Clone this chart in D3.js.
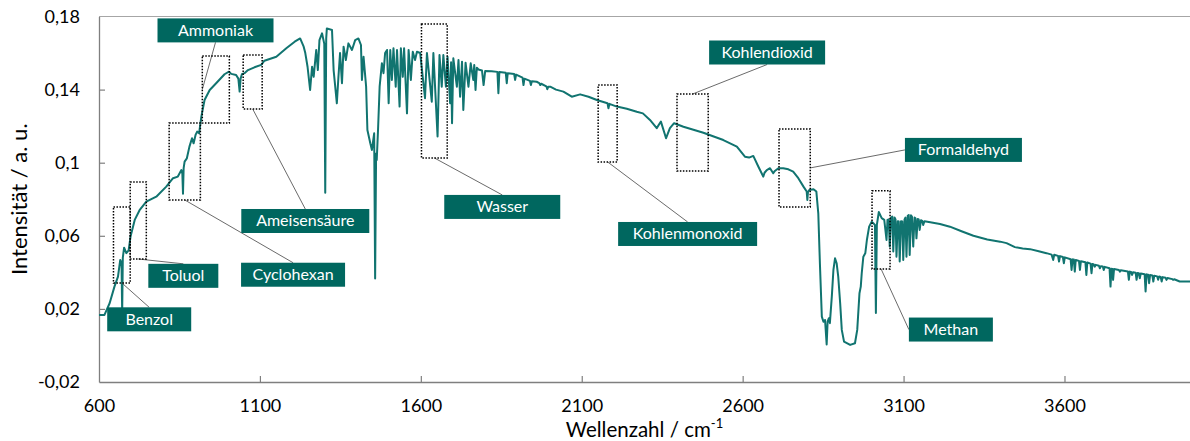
<!DOCTYPE html>
<html>
<head>
<meta charset="utf-8">
<script src="https://cdn.jsdelivr.net/npm/d3@7"></script>
<style>
  body { margin: 0; background: #fff; }
  svg text { font-family: Lato, "Open Sans", sans-serif; fill: #000; }
</style>
</head>
<body>
<div id="chart"></div>
<script>
// spectrum: [wavenumber cm-1, intensity a.u.]
var spectrum = [
  [600,0.0167],[617,0.0167],[633,0.0231],[648,0.0322],[659,0.0377],[666,0.0468],[670,0.045],[672,0.018],[674,0.048],
  [678,0.0535],[685,0.0505],[692,0.052],[698,0.0596],[711,0.0687],[726,0.074],[747,0.0787],[778,0.0814],[809,0.0869],
  [830,0.0915],[845,0.0924],[856,0.096],[859,0.094],[861,0.083],[863,0.097],[866,0.1006],[873,0.1024],[881,0.1088],
  [889,0.1134],[894,0.1106],[900,0.1152],[905,0.117],[911,0.1161],[918,0.1252],[928,0.1343],[944,0.1398],[964,0.1435],
  [990,0.1484],[1004,0.1498],[1011,0.1486],[1026,0.148],[1033,0.146],[1037,0.1389],[1040,0.146],[1044,0.1484],
  [1052,0.149],[1063,0.1507],[1083,0.1522],[1104,0.1535],[1114,0.1558],[1151,0.158],[1182,0.1626],[1208,0.1662],
  [1225,0.168],[1236,0.1635],[1241,0.16],[1248,0.1525],[1256,0.1398],[1262,0.1525],[1267,0.147],[1275,0.1617],
  [1280,0.1507],[1285,0.1671],[1293,0.1708],[1300,0.165],[1303,0.0836],[1306,0.168],[1308,0.1735],[1324,0.1726],
  [1329,0.1507],[1334,0.1416],[1339,0.1325],[1344,0.147],[1349,0.16],[1355,0.1435],[1360,0.1635],[1367,0.1562],
  [1375,0.1653],[1386,0.1617],[1396,0.1671],[1406,0.168],[1414,0.1644],[1417,0.1453],[1422,0.158],[1430,0.1416],
  [1434,0.1179],[1443,0.1106],[1448,0.107],[1455,0.1161],[1458,0.0366],[1461,0.105],[1463,0.1015],[1467,0.1179],
  [1472,0.1416],[1479,0.1544],[1484,0.149],[1489,0.16],[1495,0.1617],[1500,0.1325],[1505,0.1617],[1510,0.1453],
  [1515,0.1626],[1522,0.1416],[1526,0.1617],[1534,0.1307],[1538,0.1626],[1544,0.147],[1548,0.1626],[1557,0.127],
  [1562,0.1617],[1569,0.1453],[1575,0.1607],[1582,0.1562],[1588,0.1607],[1598,0.16],[1613,0.1353],[1619,0.16],
  [1634,0.1334],[1639,0.16],[1652,0.1143],[1658,0.1589],[1665,0.1416],[1670,0.1589],[1678,0.1416],[1683,0.158],
  [1691,0.1325],[1694,0.155],[1697,0.1216],[1701,0.1571],[1712,0.1416],[1717,0.1562],[1722,0.1361],[1728,0.1553],
  [1732,0.1289],[1739,0.1547],[1748,0.1416],[1755,0.1544],[1763,0.1453],[1766,0.1535],[1770,0.1398],[1774,0.152],
  [1779,0.151],[1790,0.1505],[1795,0.1425],[1800,0.1502],[1820,0.15],[1838,0.1497],[1841,0.138],[1844,0.1496],
  [1864,0.1492],[1867,0.1435],[1870,0.149],[1890,0.1485],[1893,0.1453],[1896,0.1482],[1916,0.1465],[1919,0.1425],
  [1922,0.146],[1939,0.1448],[1942,0.1425],[1945,0.1446],[1960,0.1443],[1968,0.1436],[1971,0.1425],[1974,0.1432],
  [1990,0.1418],[1993,0.1402],[1996,0.1415],[2002,0.1416],[2020,0.14],[2043,0.1389],[2069,0.1361],[2095,0.1374],
  [2121,0.1361],[2147,0.1343],[2180,0.1325],[2183,0.1298],[2186,0.1322],[2209,0.1307],[2240,0.1295],[2271,0.1279],
  [2290,0.127],[2312,0.1234],[2333,0.1189],[2346,0.1225],[2362,0.1134],[2374,0.1189],[2387,0.1216],[2416,0.1197],
  [2478,0.1164],[2540,0.1124],[2582,0.1088],[2607,0.1033],[2620,0.1028],[2633,0.1037],[2649,0.0978],[2664,0.0924],
  [2668,0.0945],[2675,0.096],[2685,0.097],[2695,0.0942],[2700,0.0955],[2711,0.097],[2726,0.097],[2742,0.0964],
  [2757,0.0951],[2773,0.0915],[2789,0.0869],[2799,0.0842],[2801,0.0796],[2803,0.084],[2807,0.0851],[2820,0.0855],
  [2829,0.0842],[2835,0.0723],[2840,0.045],[2846,0.0158],[2851,0.013],[2856,0.0139],[2861,0.0005],[2864,0.013],
  [2868,0.0149],[2871,0.0122],[2877,0.0267],[2882,0.0413],[2887,0.0477],[2892,0.045],[2897,0.0376],[2903,0.0231],
  [2908,0.0085],[2915,0.0021],[2934,0.0003],[2949,0.0012],[2956,0.0085],[2963,0.0286],[2967,0.0322],[2970,0.0395],
  [2975,0.0486],[2981,0.0504],[2986,0.0577],[2993,0.065],[3001,0.0677],[3006,0.0669],[3011,0.066],[3014,0.0178],
  [3017,0.066],[3023,0.073],[3032,0.0697],[3040,0.0687],[3047,0.0577],[3050,0.0687],[3054,0.069],[3057,0.0541],
  [3061,0.07],[3065,0.0705],[3068,0.0514],[3072,0.07],[3075,0.069],[3078,0.0486],[3082,0.068],[3085,0.0678],
  [3088,0.0459],[3092,0.068],[3096,0.0678],[3099,0.0468],[3103,0.069],[3106,0.07],[3109,0.0486],[3113,0.071],
  [3116,0.0714],[3119,0.0495],[3123,0.0712],[3126,0.0705],[3130,0.0541],[3134,0.07],[3137,0.0696],[3140,0.0586],
  [3144,0.0692],[3147,0.069],[3150,0.0632],[3154,0.0685],[3158,0.0682],[3161,0.0659],[3165,0.068],[3183,0.0674],
  [3213,0.0665],[3244,0.065],[3280,0.0625],[3317,0.06],[3360,0.058],[3400,0.0568],[3420,0.056],[3446,0.0538],
  [3470,0.053],[3493,0.0527],[3520,0.0515],[3544,0.0505],[3560,0.0497],[3565,0.0468],[3568,0.0496],[3580,0.049],
  [3583,0.0459],[3586,0.0489],[3595,0.0484],[3598,0.045],[3601,0.0482],[3619,0.0472],[3622,0.0413],[3625,0.0471],
  [3629,0.047],[3632,0.0404],[3635,0.0468],[3645,0.0463],[3648,0.0413],[3651,0.0461],[3665,0.0455],[3668,0.0386],
  [3671,0.0454],[3681,0.0448],[3684,0.0395],[3687,0.0446],[3691,0.0443],[3694,0.0431],[3697,0.0441],[3707,0.0436],
  [3710,0.0422],[3713,0.0434],[3719,0.0432],[3722,0.0413],[3725,0.043],[3740,0.0422],[3743,0.0322],[3746,0.042],
  [3749,0.0419],[3751,0.0359],[3754,0.0418],[3769,0.0413],[3772,0.0404],[3775,0.0412],[3797,0.0405],[3800,0.0359],
  [3803,0.0404],[3807,0.0402],[3810,0.0386],[3813,0.0401],[3821,0.0398],[3824,0.0359],[3827,0.0397],[3831,0.0395],
  [3834,0.0368],[3837,0.0394],[3849,0.039],[3852,0.0295],[3855,0.0389],[3860,0.0387],[3863,0.0341],[3866,0.0386],
  [3873,0.0383],[3876,0.035],[3879,0.0382],[3888,0.0378],[3891,0.0359],[3894,0.0377],[3899,0.0375],[3902,0.035],
  [3905,0.0374],[3914,0.037],[3917,0.0359],[3920,0.0369],[3935,0.0363],[3938,0.0359],[3941,0.0362],[3958,0.035],
  [3990,0.035]
];

var xTicks = [600, 1100, 1600, 2100, 2600, 3100, 3600];
var yTicks = [-0.02, 0.02, 0.06, 0.1, 0.14, 0.18];
var yTickLabels = ["-0,02", "0,02", "0,06", "0,1", "0,14", "0,18"];

// marked regions [wn from, wn to, intensity low, intensity high] and label anchor [wn, intensity]
var annotations = [
  { name: "Benzol",        region: [645, 697, 0.0342, 0.0758],   label: [756, 0.0143],  w: 84,  from: "bottom", to: "top" },
  { name: "Toluol",        region: [697, 747, 0.0473, 0.0895],   label: [862, 0.0381],  w: 70,  from: "bottom", to: "top" },
  { name: "Cyclohexan",    region: [818, 915, 0.0796, 0.1217],   label: [1203, 0.0387], w: 104, from: "bottom", to: "top" },
  { name: "Ammoniak",      region: [921, 1005, 0.1217, 0.1584],  label: [962, 0.1724],  w: 116, from: "left",   to: "bottom" },
  { name: "Ameisensäure",  region: [1048, 1107, 0.1294, 0.159],  label: [1241, 0.0681], w: 128, from: "bottom", to: "top" },
  { name: "Wasser",        region: [1602, 1682, 0.1026, 0.1759], label: [1853, 0.0758], w: 116, from: "bottom", to: "top" },
  { name: "Kohlenmonoxid", region: [2151, 2210, 0.1004, 0.1425], label: [2429, 0.061],  w: 139, from: "bottom", to: "top" },
  { name: "Kohlendioxid",  region: [2396, 2493, 0.0955, 0.1376], label: [2676, 0.1603], w: 116, from: "top",    to: "bottom" },
  { name: "Formaldehyd",   region: [2713, 2810, 0.0758, 0.1185], label: [3286, 0.107],  w: 117, from: "right",  to: "left" },
  { name: "Methan",        region: [3002, 3058, 0.0419, 0.0846], label: [3247, 0.0087], w: 84,  from: "bottom", to: "left" }
];

var svgWidth = 1190;
var svgHeight = 441;
var plot = { left: 99, right: 1190, top: 16.5, bottom: 382 };

var svg = d3.select("#chart")
    .append("svg")
    .attr("width", svgWidth)
    .attr("height", svgHeight);

var x = d3.scaleLinear().domain([600, 3990]).range([plot.left, plot.right]);
var y = d3.scaleLinear().domain([-0.02, 0.18]).range([plot.bottom, plot.top]);

// top border of the plot area
svg.append("line")
    .attr("x1", plot.left).attr("x2", plot.right)
    .attr("y1", plot.top).attr("y2", plot.top)
    .attr("stroke", "#a6a6a6").attr("stroke-width", 1.2);

// axes, ticks point inward
var xAxis = svg.append("g")
    .attr("transform", `translate(0, ${plot.bottom})`)
    .call(d3.axisBottom(x).tickValues(xTicks).tickSize(-6).tickSizeOuter(0).tickPadding(17.5)
        .tickFormat(d3.format("d")));
var yAxis = svg.append("g")
    .attr("transform", `translate(${plot.left}, 0)`)
    .call(d3.axisLeft(y).tickValues(yTicks).tickSize(-6).tickSizeOuter(0).tickPadding(19)
        .tickFormat((d, i) => yTickLabels[i]));

[xAxis, yAxis].forEach(function (ax) {
    ax.select(".domain").attr("stroke", "#7f7f7f").attr("stroke-width", 1.3);
    ax.selectAll(".tick line").attr("stroke", "#7f7f7f").attr("stroke-width", 1.2);
    ax.selectAll(".tick text").attr("font-size", 18).attr("font-family", "Lato, sans-serif").attr("fill", "#000");
});
// no tick marks on the corners
xAxis.selectAll(".tick").filter(d => d === 600).select("line").remove();
yAxis.selectAll(".tick").filter(d => d === 0.18 || d === -0.02).select("line").remove();

// axis titles
svg.append("text")
    .attr("transform", `translate(27, ${(plot.top + plot.bottom) / 2}) rotate(-90)`)
    .attr("text-anchor", "middle")
    .attr("font-size", 22)
    .text("Intensität / a. u.");

var xTitle = svg.append("text")
    .attr("x", (plot.left + plot.right) / 2)
    .attr("y", 436.5)
    .attr("text-anchor", "middle")
    .attr("font-size", 20.5);
xTitle.append("tspan").text("Wellenzahl / cm");
xTitle.append("tspan").attr("font-size", 13).attr("dy", -9).text("-1");

// spectrum
svg.append("clipPath").attr("id", "plotclip")
    .append("rect")
    .attr("x", plot.left).attr("y", plot.top)
    .attr("width", plot.right - plot.left).attr("height", plot.bottom - plot.top);

var line = d3.line()
    .x(d => x(d[0]))
    .y(d => y(d[1]));

svg.append("path")
    .datum(spectrum)
    .attr("clip-path", "url(#plotclip)")
    .attr("fill", "none")
    .attr("stroke", "#117470")
    .attr("stroke-width", 2)
    .attr("stroke-linejoin", "round")
    .attr("d", line);

// annotations: dotted region, leader line, label box
var boxH = 24;

function edgePoint(r, side) {
    var cx = (r.x0 + r.x1) / 2, cy = (r.y0 + r.y1) / 2;
    if (side === "bottom") return [cx, r.y1];
    if (side === "top") return [cx, r.y0];
    if (side === "left") return [r.x0, cy];
    return [r.x1, cy];
}

var annGroup = svg.append("g");

annotations.forEach(function (a) {
    var reg = { x0: x(a.region[0]), x1: x(a.region[1]), y0: y(a.region[3]), y1: y(a.region[2]) };
    var lc = [x(a.label[0]), y(a.label[1])];
    var lab = { x0: lc[0] - a.w / 2, x1: lc[0] + a.w / 2, y0: lc[1] - boxH / 2, y1: lc[1] + boxH / 2 };

    var p1 = edgePoint(reg, a.from);
    var p2 = edgePoint(lab, a.to);

    annGroup.append("line")
        .attr("x1", p1[0]).attr("y1", p1[1])
        .attr("x2", p2[0]).attr("y2", p2[1])
        .attr("stroke", "#595959")
        .attr("stroke-width", 0.9);

    annGroup.append("rect")
        .attr("x", reg.x0).attr("y", reg.y0)
        .attr("width", reg.x1 - reg.x0).attr("height", reg.y1 - reg.y0)
        .attr("fill", "none")
        .attr("stroke", "#000")
        .attr("stroke-width", 1.5)
        .attr("stroke-dasharray", "1.5,1.5");

    annGroup.append("rect")
        .attr("x", lab.x0).attr("y", lab.y0)
        .attr("width", a.w).attr("height", boxH)
        .attr("fill", "#00675f");

    annGroup.append("text")
        .attr("x", lc[0]).attr("y", lc[1] + 5.5)
        .attr("text-anchor", "middle")
        .attr("font-size", 16)
        .style("fill", "#fff")
        .text(a.name);
});
</script>
</body>
</html>
